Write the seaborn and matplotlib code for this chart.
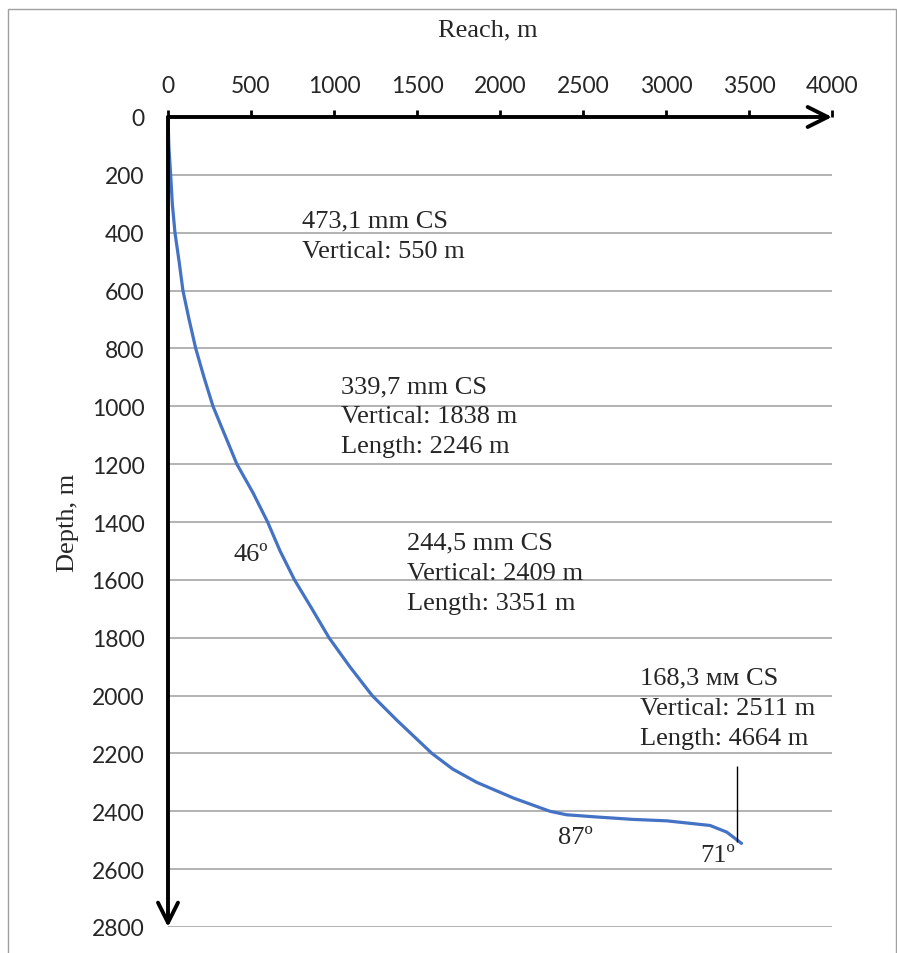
import matplotlib
matplotlib.use("Agg")
import matplotlib.pyplot as plt
import seaborn as sns
import pandas as pd
from matplotlib.patches import Rectangle

# well trajectory (reach, m / depth, m)
reach = [0, 5, 16, 26, 42, 67, 90, 127, 167, 217, 271, 343, 415, 513, 600, 675,
         762, 867, 970, 1095, 1230, 1380, 1590, 1715, 1860, 2080, 2301, 2400,
         2590, 2800, 3004, 3265, 3366, 3455]
depth = [0, 100, 200, 300, 400, 500, 600, 700, 800, 900, 1000, 1100, 1200, 1300,
         1400, 1500, 1600, 1700, 1800, 1900, 2000, 2086, 2200, 2254, 2300, 2354,
         2400, 2412, 2420, 2428, 2433, 2449, 2472, 2511]

x_ticks = [0, 500, 1000, 1500, 2000, 2500, 3000, 3500, 4000]
y_ticks = list(range(0, 2801, 200))

# casing notes
casing_labels = [
    "473,1 mm CS\nVertical: 550 m",
    "339,7 mm CS\nVertical: 1838 m\nLength: 2246 m",
    "244,5 mm CS\nVertical: 2409 m\nLength: 3351 m",
    "168,3 мм CS\nVertical: 2511 m\nLength: 4664 m",
]
casing_x = [807, 1042, 1440, 2843]
casing_y = [411, 1034, 1576, 2043]

# inclination notes
angle_labels = ["46º", "87º", "71º"]
angle_x = [500, 2452, 3313]
angle_y = [1510, 2489, 2551]

# casing shoe marker
shoe_reach = 3430
shoe_top = 2245
shoe_bottom = 2505

sns.set_style("white")
plt.rcParams["font.family"] = ["Lato", "DejaVu Sans"]
serif = "Liberation Serif"

fig = plt.figure(figsize=(8.97, 9.54), dpi=100)
ax = fig.add_axes([168 / 897, 26 / 954, 664 / 897, 810 / 954])

df = pd.DataFrame({"reach": reach, "depth": depth})
sns.lineplot(data=df, x="reach", y="depth", sort=False, estimator=None,
             color="#4472C4", lw=2.3, ax=ax, zorder=3)
ax.lines[0].set_solid_joinstyle("round")

ax.vlines(shoe_reach, shoe_top, shoe_bottom, color="black", lw=1, zorder=4)

ax.set_xlim(0, 4000)
ax.set_ylim(2800, 0)
ax.set_xticks(x_ticks)
ax.set_yticks(y_ticks)
ax.xaxis.tick_top()
ax.tick_params(axis="both", direction="out", length=5, width=2, color="black",
               labelsize=16.5)
ax.tick_params(axis="x", pad=10)
ax.tick_params(axis="y", pad=12)

ax.yaxis.grid(True, color="#a6a6a6", lw=1.2)
ax.xaxis.grid(False)
ax.set_axisbelow(True)
for s in ax.spines.values():
    s.set_visible(False)

# axis lines with arrow heads
arrow = dict(arrowstyle="->", lw=2.8, color="black", shrinkA=0, shrinkB=0,
             mutation_scale=36)
ax.annotate("", xy=(1, 1), xytext=(0, 1), xycoords="axes fraction",
            arrowprops=arrow, annotation_clip=False)
ax.annotate("", xy=(0, 0), xytext=(0, 1), xycoords="axes fraction",
            arrowprops=arrow, annotation_clip=False)

ax.set_xlabel("Reach, m", family=serif, fontsize=19)
ax.xaxis.set_label_position("top")
ax.xaxis.set_label_coords(0.482, 1 + 88 / 810)
ax.xaxis.label.set_va("center")
ax.set_ylabel("Depth, m", family=serif, fontsize=19)
ax.yaxis.set_label_coords(-100 / 664, 0.5)
ax.yaxis.label.set_va("center")

for lab, x, y in zip(casing_labels, casing_x, casing_y):
    ax.text(x, y, lab, family=serif, fontsize=19, ha="left", va="center",
            linespacing=1.48, zorder=5)

for lab, x, y in zip(angle_labels, angle_x, angle_y):
    ax.text(x, y, lab, family=serif, fontsize=19, ha="center", va="center",
            zorder=5)

# light frame round the chart
fig.add_artist(Rectangle((8 / 897, -0.01), 888 / 897, 944 / 954 + 0.01,
                         transform=fig.transFigure, fill=False,
                         ec="#a0a0a0", lw=1))

fig.savefig("out.png", dpi=100)
